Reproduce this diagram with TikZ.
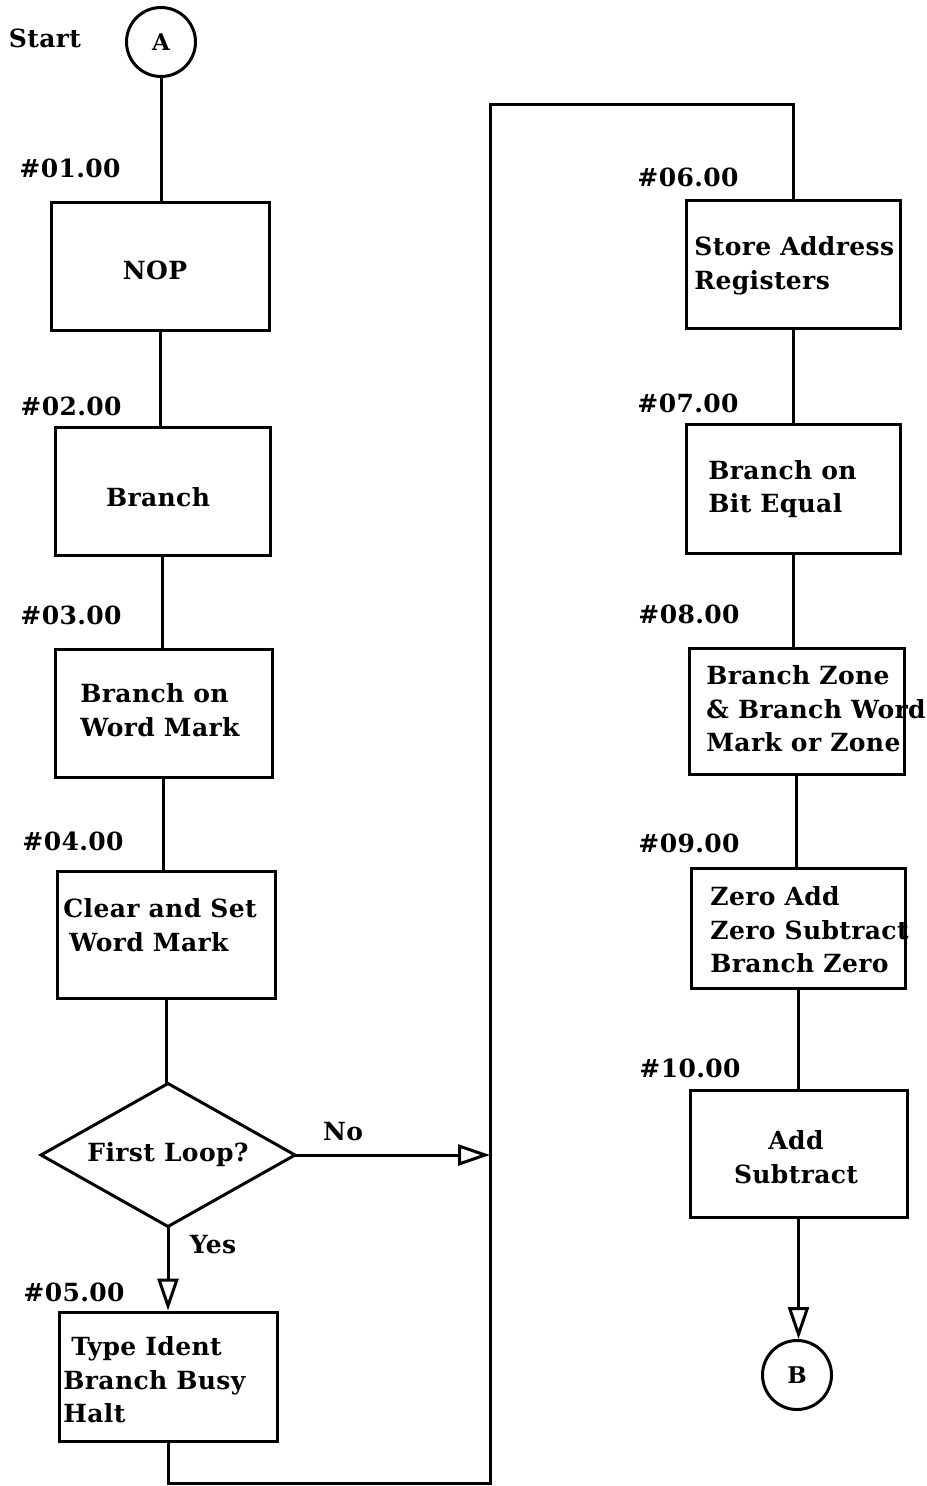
\documentclass[tikz,border=0pt]{standalone}
\usepackage{fontspec}
\setmainfont[LetterSpace=1.5]{DejaVu Serif}
\usetikzlibrary{shapes.geometric,arrows.meta}
\begin{document}
\begin{tikzpicture}[x=0.5pt,y=-0.5pt,
  every node/.style={font=\bfseries\fontsize{12.5pt}{16.75pt}\selectfont},
  box/.style={draw,line width=1.5pt,rectangle,inner sep=0pt},
  txt/.style={inner sep=0pt,align=left,anchor=west},
  lbl/.style={inner sep=0pt},
  conn/.style={draw,line width=1.5pt},
  arr/.style={conn,-{Triangle[open,length=16pt,width=10.5pt]}},
  circ/.style={draw,circle,line width=1.5pt,inner sep=0pt,minimum size=34.5pt,font=\bfseries\fontsize{11.5pt}{13pt}\selectfont}]
\useasboundingbox (0,0) rectangle (926,1486);

% left column
\node[lbl] (start) at (45,38) {Start};
\node[circ] (A) at (161,42) {A};
\node[box,minimum width=109pt,minimum height=64pt] (b1) at (160,267) {};
\node[box,minimum width=107.5pt,minimum height=63.5pt] (b2) at (162.5,491.5) {};
\node[box,minimum width=108.5pt,minimum height=64pt] (b3) at (163.5,713) {};
\node[box,minimum width=109pt,minimum height=63.5pt] (b4) at (166,934.5) {};
\node[draw,diamond,aspect=1.78,line width=1.5pt,inner sep=0pt,outer sep=0pt,minimum width=127pt,minimum height=71.5pt] (d) at (168,1155) {First Loop?};
\node[box,minimum width=109pt,minimum height=64.5pt] (b5) at (168,1376.5) {};

\node[lbl] (l1) at (70,168) {\#01.00};
\node[lbl] (l2) at (71,406) {\#02.00};
\node[lbl] (l3) at (71,615) {\#03.00};
\node[lbl] (l4) at (73,841) {\#04.00};
\node[lbl] (l5) at (74,1292) {\#05.00};

\node[lbl] (t1) at (155,270) {NOP};
\node[lbl] (t2) at (158,497) {Branch};
\node[txt] (t3) at (80,710) {Branch on\\Word Mark};
\node[txt] (t4) at (63,925) {Clear and Set\\\hspace{3pt}Word Mark};
\node[txt] (t5) at (63,1380) {\hspace{4pt}Type Ident\\Branch Busy\\Halt};

\node[lbl] (no) at (343,1132) {No};
\node[lbl] (yes) at (213,1245) {Yes};

% right column
\node[box,minimum width=107pt,minimum height=64pt] (b6) at (793,265) {};
\node[box,minimum width=107pt,minimum height=64pt] (b7) at (793,489) {};
\node[box,minimum width=107.5pt,minimum height=63pt] (b8) at (796.5,711) {};
\node[box,minimum width=107pt,minimum height=60pt] (b9) at (798,928) {};
\node[box,minimum width=108.5pt,minimum height=63.5pt] (b10) at (798.5,1153.5) {};
\node[circ] (B) at (797,1375) {B};

\node[lbl] (l6) at (688,177) {\#06.00};
\node[lbl] (l7) at (688,403) {\#07.00};
\node[lbl] (l8) at (689,614) {\#08.00};
\node[lbl] (l9) at (689,843) {\#09.00};
\node[lbl] (l10) at (690,1068) {\#10.00};

\node[txt] (t6) at (694,266) {Store Address\\Registers};
\node[txt] (t7) at (708,489) {Branch on\\Bit Equal};
\node[txt] (t8) at (706,709) {Branch Zone\\\& Branch Word\\Mark or Zone};
\node[txt] (t9) at (710,930) {Zero Add\\Zero Subtract\\Branch Zero};
\node[lbl,align=center] (t10) at (796,1157) {Add\\Subtract};

% connectors
\coordinate (lb) at (490,1483);
\coordinate (lt) at (490,105);

\path[conn] (A.south) -- (A.south |- b1.north);
\path[conn] (b1.south) -- (b1.south |- b2.north);
\path[conn] (b2.south) -- (b2.south |- b3.north);
\path[conn] (b3.south) -- (b3.south |- b4.north);
\path[conn] (b4.south) -- (b4.south |- d.north);
\path[arr] (d.south) -- (d.south |- b5.north);
\path[arr] (d.east) -- (d.east -| lt);
\path[conn] (b5.south) |- (lb) -- (lt) -| (b6.north);
\path[conn] (b6.south) -- (b6.south |- b7.north);
\path[conn] (b7.south) -- (b7.south |- b8.north);
\path[conn] (b8.south) -- (b8.south |- b9.north);
\path[conn] (b9.south) -- (b9.south |- b10.north);
\path[arr] (b10.south) -- (b10.south |- B.north);
\end{tikzpicture}
\end{document}
